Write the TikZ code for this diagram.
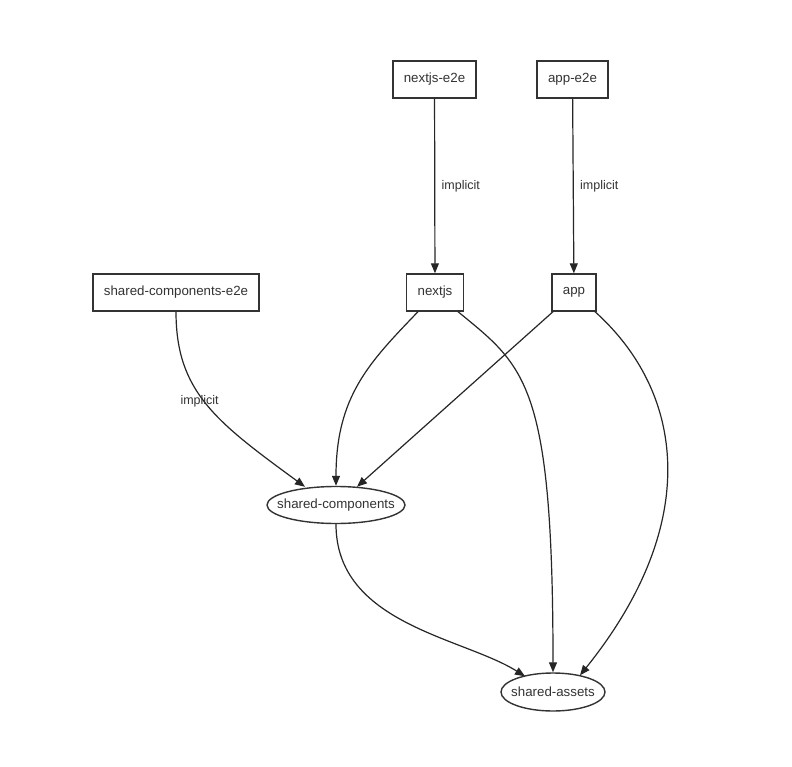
\documentclass[tikz,border=0pt]{standalone}
\usepackage{fontspec}
\setmainfont{Liberation Sans}
\usetikzlibrary{arrows.meta,shapes.geometric,calc}
\definecolor{ink}{HTML}{333333}
\tikzset{
  box/.style={draw=ink,line width=1.4pt,rectangle,minimum height=37pt,inner xsep=11pt,text=ink,font=\fontsize{13.3}{15}\selectfont},
  oval/.style={draw=ink,line width=1.4pt,ellipse,inner sep=0pt,inner xsep=-16pt,text=ink,font=\fontsize{13.3}{15}\selectfont},
  edge/.style={draw=black!85,line width=1.2pt,-{Triangle[length=10pt,width=8pt]}},
  lbl/.style={text=ink,font=\fontsize{12.5}{14}\selectfont}
}
\begin{document}
\begin{tikzpicture}[x=1pt,y=-1pt]
\useasboundingbox[fill=white] (0,0) rectangle (792,767);
\node[box] (ne2e) at (434.5,79.5) {nextjs-e2e};
\node[box] (ae2e) at (572.5,79.5) {app-e2e};
\node[box] (sce2e) at (176,292.5) {shared-components-e2e};
\node[box] (nx) at (435,292.5) {nextjs};
\node[box] (ap) at (574,292.5) {app};
\node[oval,minimum width=138pt,minimum height=37pt] (sc) at (336,505) {shared-components};
\node[oval,minimum width=104pt,minimum height=38pt] (sa) at (553,692) {shared-assets};

\draw[edge] (ne2e) -- node[lbl,right=3pt] {implicit} (nx);
\draw[edge] (ae2e) -- node[lbl,right=3pt] {implicit} (ap);
\draw[edge] (sce2e.south) .. controls ($(sce2e.south)+(0,80)$) and ($(sce2e.south)+(40,110)$) .. node[lbl,pos=0.48,left=-18pt] {implicit} ($(sc.north)+(-31,1)$);
\draw[edge] ($(nx.south)+(-17,0)$) .. controls ($(nx.south)+(-65,50)$) and ($(sc.north)+(0,-90)$) .. ($(sc.north)+(0,0)$);
\draw[edge] ($(nx.south)+(23,0)$) .. controls ($(nx.south)+(90,55)$) and ($(sa.north)+(0,-290)$) .. (sa.north);
\draw[edge] ($(ap.south)+(-21,0)$) -- ($(sc.north)+(21,1)$);
\draw[edge] ($(ap.south)+(21,0)$) .. controls ($(ap.south)+(110,80)$) and ($(sa.north)+(150,-150)$) .. ($(sa.north)+(27,3)$);
\draw[edge] (sc.south) .. controls ($(sc.south)+(0,100)$) and ($(sa.north)+(-90,-35)$) .. ($(sa.north)+(-28,4)$);
\end{tikzpicture}
\end{document}
